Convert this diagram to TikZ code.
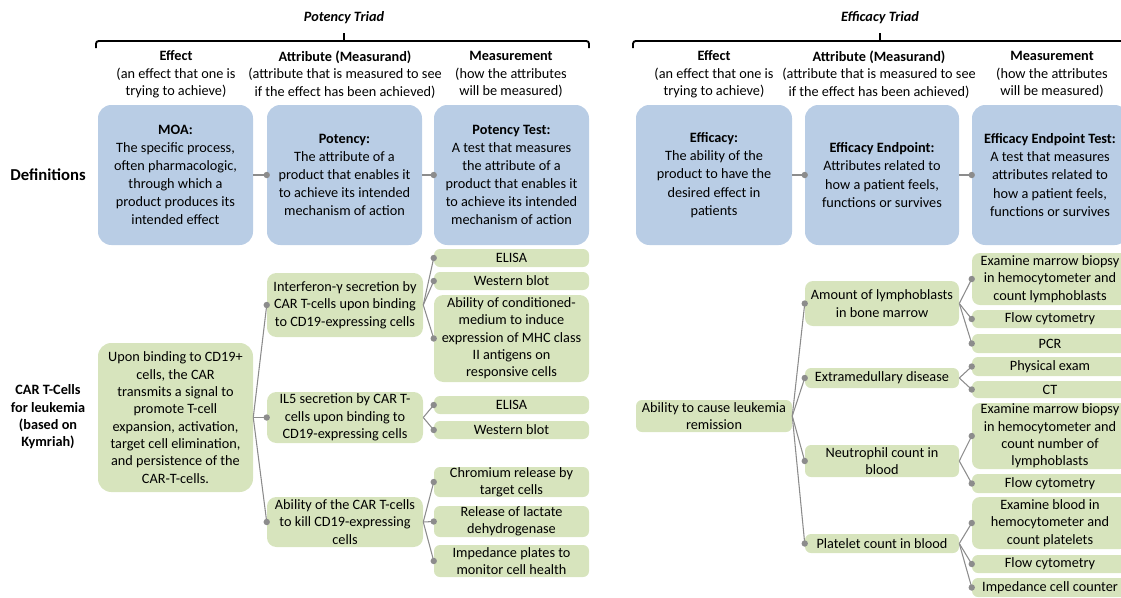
\documentclass[tikz,border=0pt]{standalone}
\usepackage{fontspec}
\setmainfont{Carlito}
\definecolor{defblue}{HTML}{B9CDE5}
\definecolor{treegreen}{HTML}{D7E4BD}
\definecolor{linkgray}{HTML}{8C8C8C}

\begin{document}
\begin{tikzpicture}[x=0.75pt, y=-0.75pt, font=\fontsize{10.7}{13}\selectfont,
    sized/.style 2 args={minimum width=#1*0.75pt, minimum height=#2*0.75pt},
    defbox/.style={fill=defblue, rounded corners=10pt, align=center, inner sep=0pt, font=\fontsize{10.7}{13.6}\selectfont},
    leaf/.style={fill=treegreen, rounded corners=4.5pt, align=center, inner sep=0pt},
    head/.style={align=center, inner sep=0pt},
    brace/.style={line width=1.4pt, rounded corners=2pt},
    link/.style={linkgray, line width=0.8pt}]
    \useasboundingbox (0,0) rectangle (1121,597);
    \clip (0,0) rectangle (1121,597);

    \draw [brace] (96,48) -- (96,41) -- (589,41) -- (589,48);
    \draw [brace] (344,41) -- (344,33);
    \draw [brace] (633,48) -- (633,41) -- (1135,41) -- (1135,48);
    \draw [brace] (880,41) -- (880,33);
    \node [head] (potTitle) at (344,18) {\textbf{\textit{Potency Triad}}};
    \node [head] (effTitle) at (880,18) {\textbf{\textit{Efficacy Triad}}};

    \node [head] (potEffect) at (176,74.5) {\textbf{Effect}\\(an effect that one is\\trying to achieve)};
    \node [head] (potAttr) at (345,74.5) {\textbf{Attribute (Measurand)}\\(attribute that is measured to see\\if the effect has been achieved)};
    \node [head] (potMeas) at (511,74.5) {\textbf{Measurement}\\(how the attributes\\will be measured)};
    \node [head] (effEffect) at (714,74.5) {\textbf{Effect}\\(an effect that one is\\trying to achieve)};
    \node [head] (effAttr) at (879,74.5) {\textbf{Attribute (Measurand)}\\(attribute that is measured to see\\if the effect has been achieved)};
    \node [head] (effMeas) at (1052,74.5) {\textbf{Measurement}\\(how the attributes\\will be measured)};

    \node [head, font=\fontsize{12.5}{15}\selectfont\bfseries] (defs) at (48,175) {Definitions};
    \node [head, font=\fontsize{10.7}{13}\selectfont\bfseries] (car) at (48,417) {CAR T-Cells\\for leukemia\\(based on\\Kymriah)};

    \node [defbox, sized={155}{140}] (moa) at (175.5,175) {\textbf{MOA:}\\The specific process,\\often pharmacologic,\\through which a\\product produces its\\intended effect};
    \node [defbox, sized={155}{140}] (pot) at (344.5,175) {\textbf{Potency:}\\The attribute of a\\product that enables it\\to achieve its intended\\mechanism of action};
    \node [defbox, sized={155}{140}] (ptest) at (511.5,175) {\textbf{Potency Test:}\\A test that measures\\the attribute of a\\product that enables it\\to achieve its intended\\mechanism of action};
    \node [defbox, sized={156}{140}] (eff) at (714,175) {\textbf{Efficacy:}\\The ability of the\\product to have the\\desired effect in\\patients};
    \node [defbox, sized={154}{140}] (eend) at (882,175) {\textbf{Efficacy Endpoint:}\\Attributes related to\\how a patient feels,\\functions or survives};
    \node [defbox, sized={156}{140}] (etest) at (1050,175) {\textbf{Efficacy Endpoint Test:}\\A test that measures\\attributes related to\\how a patient feels,\\functions or survives};

    \node [leaf, sized={155}{149}, rounded corners=10pt] (signal) at (175.5,417.5) {Upon binding to CD19+\\cells, the CAR\\transmits a signal to\\promote T-cell\\expansion, activation,\\target cell elimination,\\and persistence of the\\CAR-T-cells.};
    \node [leaf, sized={156}{64}, rounded corners=7pt] (ifn) at (345,305) {Interferon-γ secretion by\\CAR T-cells upon binding\\to CD19-expressing cells};
    \node [leaf, sized={156}{51}, rounded corners=7pt] (ilfive) at (345,417.5) {IL5 secretion by CAR T-\\cells upon binding to\\CD19-expressing cells};
    \node [leaf, sized={156}{50}, rounded corners=7pt] (kill) at (345,522) {Ability of the CAR T-cells\\to kill CD19-expressing\\cells};
    \node [leaf, sized={155}{18}] (elisaA) at (511.5,258) {ELISA};
    \node [leaf, sized={155}{18}] (westA) at (511.5,281) {Western blot};
    \node [leaf, sized={155}{87}, rounded corners=7pt] (mhc) at (511.5,338.5) {Ability of conditioned-\\medium to induce\\expression of MHC class\\II antigens on\\responsive cells};
    \node [leaf, sized={155}{18}] (elisaB) at (511.5,405) {ELISA};
    \node [leaf, sized={155}{18}] (westB) at (511.5,430) {Western blot};
    \node [leaf, sized={155}{30}] (chrom) at (511.5,482) {Chromium release by\\target cells};
    \node [leaf, sized={155}{31}] (ldh) at (511.5,521.5) {Release of lactate\\dehydrogenase};
    \node [leaf, sized={155}{32}] (imped) at (511.5,561) {Impedance plates to\\monitor cell health};

    \node [leaf, sized={156}{32}] (remis) at (714,416) {Ability to cause leukemia\\remission};
    \node [leaf, sized={154}{45}, rounded corners=6pt] (lymph) at (882,303.5) {Amount of lymphoblasts\\in bone marrow};
    \node [leaf, sized={154}{20}] (extra) at (882,378) {Extramedullary disease};
    \node [leaf, sized={154}{32}] (neut) at (882,461) {Neutrophil count in\\blood};
    \node [leaf, sized={154}{19}] (plat) at (882,543.5) {Platelet count in blood};
    \node [leaf, sized={156}{52}, rounded corners=6pt] (marrowA) at (1050,279) {Examine marrow biopsy\\in hemocytometer and\\count lymphoblasts};
    \node [leaf, sized={156}{18}] (flowA) at (1050,319) {Flow cytometry};
    \node [leaf, sized={156}{19}] (pcr) at (1050,343.5) {PCR};
    \node [leaf, sized={156}{19}] (phys) at (1050,366.5) {Physical exam};
    \node [leaf, sized={156}{17}] (ct) at (1050,389.5) {CT};
    \node [leaf, sized={156}{66}, rounded corners=6pt] (marrowB) at (1050,436) {Examine marrow biopsy\\in hemocytometer and\\count number of\\lymphoblasts};
    \node [leaf, sized={156}{19}] (flowB) at (1050,483.5) {Flow cytometry};
    \node [leaf, sized={156}{52}, rounded corners=6pt] (blood) at (1050,523) {Examine blood in\\hemocytometer and\\count platelets};
    \node [leaf, sized={156}{18}] (flowC) at (1050,564) {Flow cytometry};
    \node [leaf, sized={156}{19}] (counter) at (1050,587.5) {Impedance cell counter};

    \foreach \a/\b in {moa/pot, pot/ptest, eff/eend, eend/etest,
        signal/ifn, signal/ilfive, signal/kill,
        ifn/elisaA, ifn/westA, ifn/mhc, ilfive/elisaB, ilfive/westB,
        kill/chrom, kill/ldh, kill/imped,
        remis/lymph, remis/extra, remis/neut, remis/plat,
        lymph/marrowA, lymph/flowA, lymph/pcr, extra/phys, extra/ct,
        neut/marrowB, neut/flowB, plat/blood, plat/flowC, plat/counter} {%
        \draw [link] (\a.east) -- (\b.west);
        \fill [linkgray] (\b.west) circle (2.4pt);
    }
\end{tikzpicture}
\end{document}
